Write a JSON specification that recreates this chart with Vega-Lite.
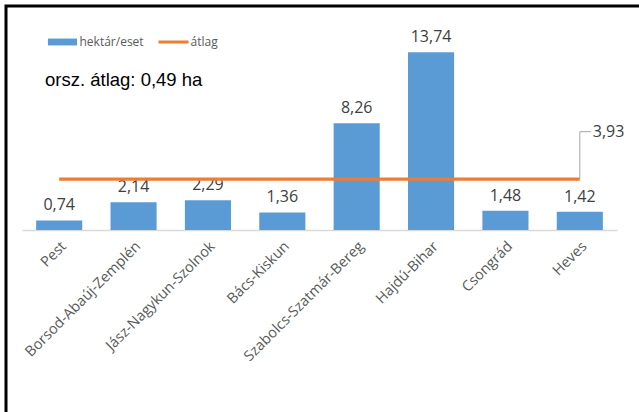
{
  "$schema": "https://vega.github.io/schema/vega-lite/v6.json",
  "width": 700,
  "height": 426,
  "autosize": {"type": "none"},
  "padding": {"left": 6, "top": 6, "right": -67, "bottom": -20},
  "config": {
    "view": {"stroke": "#000000", "strokeWidth": 3},
    "locale": {"number": {"decimal": ",", "thousands": " ", "grouping": [3], "currency": ["", " Ft"]}}
  },
  "title": {
    "text": "orsz. átlag: 0,49 ha",
    "anchor": "start",
    "frame": "group",
    "orient": "top",
    "offset": 0,
    "dx": 39,
    "dy": 92,
    "baseline": "middle",
    "font": "Liberation Sans",
    "fontSize": 18.5,
    "fontWeight": "normal",
    "color": "#000000"
  },
  "data": {
    "values": [
      {"megye": "Pest", "hektar": 0.74, "atlag": 3.93},
      {"megye": "Borsod-Abaúj-Zemplén", "hektar": 2.14, "atlag": 3.93},
      {"megye": "Jász-Nagykun-Szolnok", "hektar": 2.29, "atlag": 3.93},
      {"megye": "Bács-Kiskun", "hektar": 1.36, "atlag": 3.93},
      {"megye": "Szabolcs-Szatmár-Bereg", "hektar": 8.26, "atlag": 3.93},
      {"megye": "Hajdú-Bihar", "hektar": 13.74, "atlag": 3.93},
      {"megye": "Csongrád", "hektar": 1.48, "atlag": 3.93},
      {"megye": "Heves", "hektar": 1.42, "atlag": 3.93}
    ]
  },
  "encoding": {
    "x": {
      "field": "megye",
      "type": "nominal",
      "sort": null,
      "scale": {"range": [16, 611], "paddingInner": 0.38, "paddingOuter": 0.19},
      "axis": {
        "title": null,
        "orient": "bottom",
        "offset": -202,
        "ticks": false,
        "labelAngle": -45,
        "labelPadding": 9,
        "labelFont": "Open Sans",
        "labelFontSize": 14.5,
        "labelColor": "#595959",
        "domainColor": "#D9D9D9",
        "domainWidth": 1.5,
        "grid": false
      }
    }
  },
  "layer": [
    {
      "mark": {"type": "bar"},
      "encoding": {
        "y": {
          "field": "hektar",
          "type": "quantitative",
          "scale": {"domain": [0, 16], "range": [224, 17], "nice": false, "zero": true},
          "axis": null
        },
        "color": {
          "datum": "hektár/eset",
          "scale": {"domain": ["hektár/eset", "átlag"], "range": ["#5B9BD5", "#ED7D31"]},
          "legend": {
            "orient": "none",
            "legendX": 41.5,
            "legendY": 21,
            "direction": "horizontal",
            "title": null,
            "padding": 0,
            "labelFont": "Open Sans",
            "labelFontSize": 12,
            "labelColor": "#595959",
            "symbolSize": 900,
            "labelOffset": 2,
            "columnPadding": 14,
            "symbolStrokeWidth": 0,
            "encode": {
              "symbols": {
                "update": {
                  "shape": {"signal": "datum.value === 'átlag' ? 'M-1,-0.1H1V0.1H-1Z' : 'M-0.97,-0.23H0.97V0.23H-0.97Z'"},
                  "fill": {"scale": "color", "field": "value"},
                  "fillOpacity": {"value": 1},
                  "opacity": {"value": 1}
                }
              }
            }
          }
        }
      }
    },
    {
      "mark": {"type": "text", "dy": -10, "baseline": "alphabetic", "font": "Open Sans", "fontSize": 16, "color": "#404040"},
      "encoding": {
        "y": {"field": "hektar", "type": "quantitative"},
        "text": {"field": "hektar", "type": "quantitative", "format": ".2f"}
      }
    },
    {
      "mark": {"type": "line", "strokeWidth": 3.3},
      "encoding": {
        "y": {"field": "atlag", "type": "quantitative"},
        "color": {"datum": "átlag"}
      }
    },
    {
      "transform": [{"filter": "datum.megye === 'Heves'"}],
      "mark": {"type": "rule", "color": "#A6A6A6", "strokeWidth": 1},
      "encoding": {
        "y": {"field": "atlag", "type": "quantitative"},
        "y2": {"datum": 7.6}
      }
    },
    {
      "transform": [{"filter": "datum.megye === 'Heves'"}],
      "mark": {"type": "rule", "color": "#A6A6A6", "strokeWidth": 1, "x2Offset": 11},
      "encoding": {
        "x2": {"field": "megye"},
        "y": {"datum": 7.6, "type": "quantitative"}
      }
    },
    {
      "transform": [{"filter": "datum.megye === 'Heves'"}],
      "mark": {"type": "text", "align": "left", "baseline": "middle", "dx": 13, "font": "Open Sans", "fontSize": 16, "color": "#404040"},
      "encoding": {
        "y": {"datum": 7.6, "type": "quantitative"},
        "text": {"field": "atlag", "type": "quantitative", "format": ".2f"}
      }
    }
  ]
}
